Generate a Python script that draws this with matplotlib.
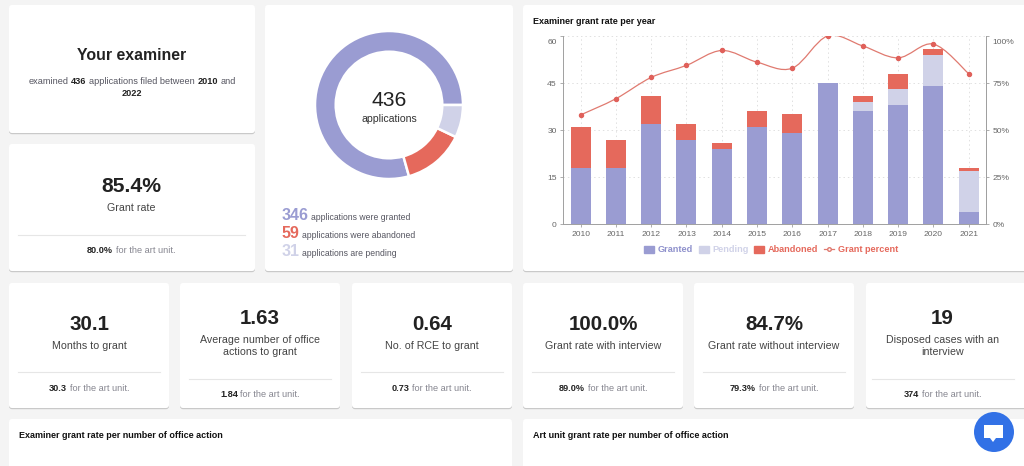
import matplotlib
matplotlib.use("Agg")
import matplotlib.pyplot as plt
from matplotlib.lines import Line2D
from matplotlib.patches import Circle, FancyBboxPatch, Patch, PathPatch, Polygon
from matplotlib.path import Path
from matplotlib.transforms import ScaledTranslation
import numpy as np

plt.rcParams["font.family"] = ["Liberation Sans", "DejaVu Sans"]

# Data
years = ["2010", "2011", "2012", "2013", "2014", "2015", "2016", "2017", "2018", "2019", "2020", "2021"]
granted = [18, 18, 32, 27, 24, 31, 29, 45, 36, 38, 44, 4]
pending = [0, 0, 0, 0, 0, 0, 0, 0, 3, 5, 10, 13]
abandoned = [13, 9, 9, 5, 2, 5, 6, 0, 2, 5, 2, 1]
grant_percent = [58.1, 66.7, 78.0, 84.4, 92.3, 86.1, 82.9, 100.0, 94.7, 88.4, 95.7, 80.0]
count_ticks = [0, 15, 30, 45, 60]
percent_ticks = [0, 25, 50, 75, 100]

donut_labels = ["granted", "abandoned", "pending"]
donut_values = [346, 59, 31]

stat_numbers = ["30.1", "1.63", "0.64", "100.0%", "84.7%", "19"]
stat_labels = [
    ["Months to grant"],
    ["Average number of office", "actions to grant"],
    ["No. of RCE to grant"],
    ["Grant rate with interview"],
    ["Grant rate without interview"],
    ["Disposed cases with an", "interview"],
]
stat_units = ["30.3", "1.84", "0.73", "89.0%", "79.3%", "374"]

# Colours
BG = "#f4f4f4"
GRANTED = "#9a9cd2"
PENDING = "#d0d2e8"
ABANDONED = "#e5695c"
LINE = "#e07a70"
DARK = "#222222"
GREY = "#85858f"
AXIS = "#a0a0a0"

W, H = 1024, 466
fig = plt.figure(figsize=(W / 100, H / 100), dpi=100, facecolor=BG)
page = fig.add_axes([0, 0, 1, 1])
page.set_xlim(0, W)
page.set_ylim(H, 0)
page.axis("off")
renderer = fig.canvas.get_renderer()


def card(x0, y0, x1, y1):
    page.add_patch(FancyBboxPatch((x0, y0 + 1.2), x1 - x0, y1 - y0, boxstyle="round,pad=0,rounding_size=3",
                                  fc="#c9c9c9", ec="none"))
    page.add_patch(FancyBboxPatch((x0, y0), x1 - x0, y1 - y0, boxstyle="round,pad=0,rounding_size=3",
                                  fc="white", ec="none"))


def runs(x, y, parts, center=True):
    # parts: (text, size, weight, colour), all on one baseline
    items = []
    for text, size, weight, color in parts:
        t = page.text(x, y, text, fontsize=size, fontweight=weight, color=color, va="baseline", ha="left")
        items.append((t, t.get_window_extent(renderer).width))
    space = 0.278 * min(p[1] for p in parts) / 0.72
    total = sum(i[1] for i in items) + space * (len(items) - 1)
    cur = x - total / 2 if center else x
    for t, w in items:
        t.set_x(cur)
        cur += w + space


def foot(cx, y, value):
    runs(cx, y, [(value, 6.6, "bold", DARK), ("for the art unit.", 6.6, "normal", GREY)])


# Cards
card(9, 5, 255, 133)
card(9, 144, 255, 271)
card(265, 5, 513, 271)
card(523, 5, 1040, 271)
stat_x = [(9, 169), (180, 340), (352, 512), (523, 683), (694, 854), (866, 1040)]
for x0, x1 in stat_x:
    card(x0, 283, x1, 408)
card(9, 419, 512, 480)
card(523, 419, 1040, 480)

# Your examiner
page.text(132, 55, "Your examiner", fontsize=11.4, fontweight="bold", color=DARK, ha="center", va="center")
runs(132, 84, [("examined", 6.6, "normal", "#555560"), ("436", 6.6, "bold", DARK),
               ("applications filed between", 6.6, "normal", "#555560"), ("2010", 6.6, "bold", DARK),
               ("and", 6.6, "normal", "#555560")])
runs(132, 96, [("2022", 6.6, "bold", DARK)])

# Grant rate
page.text(131, 187, "85.4%", fontsize=15.2, fontweight="bold", color=DARK, ha="center", va="center")
page.text(131, 208, "Grant rate", fontsize=7.7, color="#444444", ha="center", va="center")
page.plot([18, 245], [235, 235], color="#e6e6e6", lw=0.8)
foot(131, 253, "80.0%")

# Donut
donut = fig.add_axes([(389 - 74) / W, 1 - (105 + 74) / H, 148 / W, 148 / H])
donut.pie(donut_values, colors=[GRANTED, ABANDONED, PENDING], startangle=0, radius=1.0,
          wedgeprops=dict(width=0.28, edgecolor="white", linewidth=1.8))
donut.set_xlim(-1, 1)
donut.set_ylim(-1, 1)
page.text(389, 101, str(sum(donut_values)), fontsize=15.2, color=DARK, ha="center", va="center")
page.text(389, 119, "applications", fontsize=7.6, color="#333333", ha="center", va="center")

verbs = ["were granted", "were abandoned", "are pending"]
for i, (value, color, verb) in enumerate(zip(donut_values, [GRANTED, ABANDONED, PENDING], verbs)):
    runs(282, 220 + 18 * i, [(str(value), 11.5, "bold", color),
                             ("applications " + verb, 6.2, "normal", "#555560")], center=False)

# Stat cards
for (x0, x1), number, label, unit in zip(stat_x, stat_numbers, stat_labels, stat_units):
    cx = (x0 + min(x1, 1029)) / 2 - (0 if x1 < 1000 else 5)
    two = len(label) == 2
    page.text(cx, 318.5 if two else 325, number, fontsize=14.8, fontweight="bold", color=DARK, ha="center", va="center")
    for j, line in enumerate(label):
        page.text(cx, (340 + 12 * j) if two else 345.7, line, fontsize=7.7, color="#444444", ha="center", va="center")
    div_y = 378.7 if two else 372.3
    page.plot([cx - 71, cx + 71], [div_y, div_y], color="#e6e6e6", lw=0.8)
    foot(cx, 397 if two else 391, unit)

# Card titles
page.text(533, 21, "Examiner grant rate per year", fontsize=6.5, fontweight="bold", color="#111111", va="center")
page.text(19, 435, "Examiner grant rate per number of office action", fontsize=6.5, fontweight="bold", color="#111111", va="center")
page.text(533, 435, "Art unit grant rate per number of office action", fontsize=6.5, fontweight="bold", color="#111111", va="center")

# Chat button
page.add_patch(Circle((994, 432), 20, fc="#3271e6", ec="none", zorder=6))
page.add_patch(Polygon([(984, 425), (1003, 425), (1003, 438), (996, 438), (993, 442), (990, 438), (984, 438)],
                       fc="white", ec="none", zorder=7))

# Bar chart
ax = fig.add_axes([563 / W, 1 - 224.3 / H, (986.3 - 563) / W, (224.3 - 36) / H])
x = np.arange(len(years))
g = np.array(granted)
p = np.array(pending)
a = np.array(abandoned)
ax.bar(x, g, width=0.565, color=GRANTED, zorder=3)
ax.bar(x, p, width=0.565, bottom=g, color=PENDING, zorder=3)
ax.bar(x, a, width=0.565, bottom=g + p, color=ABANDONED, zorder=3)
ax.set_xlim(-0.5, len(years) - 0.5)
ax.set_ylim(0, 60)
ax.set_xticks(x)
ax.set_xticklabels(years)
ax.set_yticks(count_ticks)
ax.grid(True, linestyle=(0, (1.5, 3)), color="#e0e0e0", linewidth=0.7)
ax.set_axisbelow(True)

ax2 = ax.twinx()
ax2.set_ylim(0, 100)
ax2.set_yticks(percent_ticks)
ax2.set_yticklabels([f"{v}%" for v in percent_ticks])

# smooth line through the percentages, same control points as a cardinal spline
pts = np.column_stack([x, grant_percent])
verts = [pts[0]]
codes = [Path.MOVETO]
for i in range(len(pts) - 1):
    before = pts[max(i - 1, 0)]
    after = pts[min(i + 2, len(pts) - 1)]
    verts += [pts[i] + (pts[i + 1] - before) / 6, pts[i + 1] - (after - pts[i]) / 6, pts[i + 1]]
    codes += [Path.CURVE4] * 3
ax2.add_patch(PathPatch(Path(verts, codes), fc="none", ec=LINE, lw=0.9, zorder=4))
ax2.plot(x, grant_percent, linestyle="none", marker="o", ms=2.9, color="#e0605a", zorder=5)

for a_ in (ax, ax2):
    a_.spines["top"].set_visible(False)
    for s in a_.spines.values():
        s.set_color(AXIS)
        s.set_linewidth(0.7)
    a_.tick_params(labelsize=6.1, colors="#666666", length=2.5, width=0.6, pad=2, color=AXIS)
ax2.spines["left"].set_visible(False)
ax2.spines["bottom"].set_visible(False)

# the top labels sit below the axis end
shift = ScaledTranslation(0, -6 / 100, fig.dpi_scale_trans)
for lab in (ax.get_yticklabels()[-1], ax2.get_yticklabels()[-1]):
    lab.set_transform(lab.get_transform() + shift)

handles = [
    Patch(color=GRANTED, label="Granted"),
    Patch(color=PENDING, label="Pending"),
    Patch(color=ABANDONED, label="Abandoned"),
    Line2D([0], [0], color=LINE, lw=0.9, marker="o", ms=2.6, mfc="white", mec=LINE, label="Grant percent"),
]
ax2.legend(handles=handles, loc="center", bbox_to_anchor=(771 / W, 1 - 250 / H), bbox_transform=fig.transFigure,
           ncol=4, frameon=False, prop=dict(size=6.6, weight="bold"),
           labelcolor=["#8f91cc", PENDING, ABANDONED, ABANDONED],
           handlelength=1.1, handleheight=0.9, handletextpad=0.4, columnspacing=0.6)

fig.savefig("out.png", dpi=100, facecolor=BG)
